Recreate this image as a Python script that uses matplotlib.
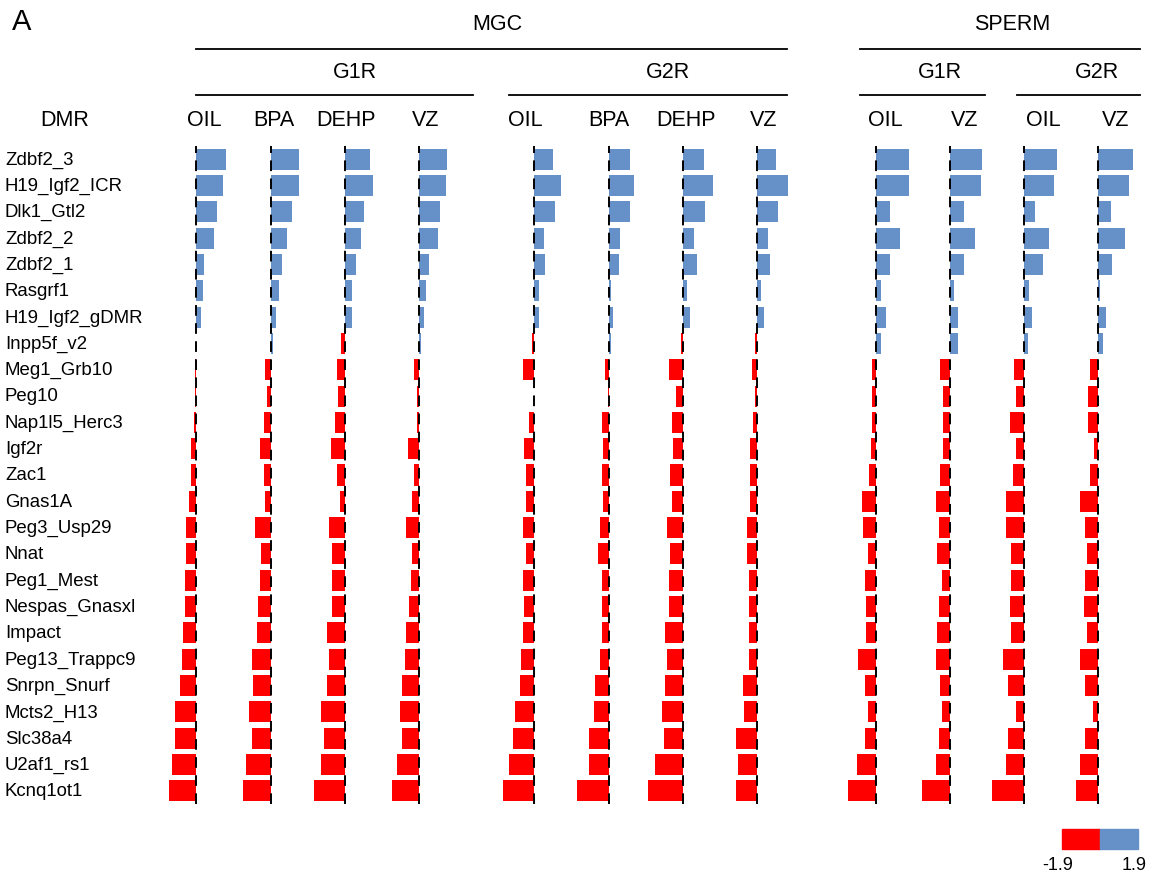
import matplotlib
matplotlib.use("Agg")
import matplotlib.pyplot as plt
from matplotlib.lines import Line2D
from matplotlib.patches import Rectangle

plt.rcParams["font.family"] = ["Liberation Sans", "DejaVu Sans"]

dmrs = ["Zdbf2_3", "H19_Igf2_ICR", "Dlk1_Gtl2", "Zdbf2_2", "Zdbf2_1", "Rasgrf1",
        "H19_Igf2_gDMR", "Inpp5f_v2", "Meg1_Grb10", "Peg10", "Nap1l5_Herc3", "Igf2r",
        "Zac1", "Gnas1A", "Peg3_Usp29", "Nnat", "Peg1_Mest", "Nespas_Gnasxl", "Impact",
        "Peg13_Trappc9", "Snrpn_Snurf", "Mcts2_H13", "Slc38a4", "U2af1_rs1", "Kcnq1ot1"]

mgc_g1r_oil = [1.50, 1.35, 1.05, 0.90, 0.40, 0.35, 0.25, 0.02, -0.03, -0.03, -0.12, -0.25, -0.25,
               -0.35, -0.50, -0.50, -0.55, -0.55, -0.65, -0.70, -0.80, -1.05, -1.05, -1.20, -1.35]
mgc_g1r_bpa = [1.40, 1.40, 1.05, 0.80, 0.55, 0.40, 0.25, 0.10, -0.30, -0.20, -0.35, -0.55, -0.35,
               -0.30, -0.80, -0.50, -0.55, -0.65, -0.70, -0.95, -0.90, -1.10, -0.95, -1.25, -1.40]
mgc_g1r_dehp = [1.25, 1.40, 0.95, 0.80, 0.55, 0.35, 0.35, -0.20, -0.40, -0.35, -0.50, -0.70, -0.40,
                -0.25, -0.80, -0.65, -0.65, -0.65, -0.90, -0.80, -0.90, -1.20, -1.05, -1.20, -1.55]
mgc_g1r_vz = [1.40, 1.35, 1.05, 0.95, 0.50, 0.35, 0.25, 0.10, -0.25, -0.10, -0.10, -0.55, -0.25,
              -0.35, -0.65, -0.35, -0.40, -0.50, -0.65, -0.70, -0.85, -0.95, -0.85, -1.10, -1.35]
mgc_g2r_oil = [0.95, 1.35, 1.05, 0.50, 0.55, 0.25, 0.25, -0.10, -0.55, 0.00, -0.25, -0.50, -0.40,
               -0.40, -0.55, -0.40, -0.55, -0.50, -0.55, -0.65, -0.70, -0.95, -1.05, -1.25, -1.55]
mgc_g2r_bpa = [1.05, 1.25, 1.05, 0.55, 0.50, 0.10, 0.20, 0.10, -0.20, -0.03, -0.35, -0.30, -0.35,
               -0.30, -0.45, -0.55, -0.35, -0.35, -0.35, -0.45, -0.70, -0.75, -1.00, -1.00, -1.60]
mgc_g2r_dehp = [1.05, 1.50, 1.10, 0.55, 0.70, 0.20, 0.35, -0.10, -0.70, -0.35, -0.55, -0.50, -0.65,
                -0.55, -0.80, -0.65, -0.70, -0.70, -0.90, -0.80, -0.90, -1.05, -0.95, -1.40, -1.75]
mgc_g2r_vz = [0.95, 1.55, 1.05, 0.55, 0.65, 0.20, 0.35, -0.10, -0.25, -0.10, -0.20, -0.35, -0.35,
              -0.35, -0.50, -0.50, -0.40, -0.40, -0.40, -0.40, -0.70, -0.65, -1.05, -0.95, -1.05]
sperm_g1r_oil = [1.65, 1.65, 0.70, 1.20, 0.70, 0.25, 0.50, 0.25, -0.20, -0.20, -0.20, -0.25, -0.35,
                 -0.70, -0.65, -0.40, -0.55, -0.50, -0.50, -0.90, -0.55, -0.40, -0.55, -0.95, -1.40]
sperm_g1r_vz = [1.60, 1.55, 0.70, 1.25, 0.70, 0.20, 0.40, 0.40, -0.50, -0.35, -0.35, -0.35, -0.50,
                -0.70, -0.55, -0.65, -0.40, -0.55, -0.65, -0.70, -0.50, -0.40, -0.55, -0.70, -1.40]
sperm_g2r_oil = [1.65, 1.50, 0.55, 1.25, 0.95, 0.25, 0.40, 0.20, -0.50, -0.40, -0.70, -0.40, -0.55,
                 -0.90, -0.90, -0.65, -0.65, -0.70, -0.65, -1.05, -0.80, -0.40, -0.80, -0.90, -1.60]
sperm_g2r_vz = [1.75, 1.55, 0.65, 1.35, 0.70, 0.10, 0.40, 0.25, -0.40, -0.50, -0.50, -0.20, -0.40,
                -0.90, -0.65, -0.55, -0.65, -0.70, -0.55, -0.90, -0.65, -0.25, -0.65, -0.90, -1.10]

columns = [mgc_g1r_oil, mgc_g1r_bpa, mgc_g1r_dehp, mgc_g1r_vz,
           mgc_g2r_oil, mgc_g2r_bpa, mgc_g2r_dehp, mgc_g2r_vz,
           sperm_g1r_oil, sperm_g1r_vz, sperm_g2r_oil, sperm_g2r_vz]
treatments = ["OIL", "BPA", "DEHP", "VZ", "OIL", "BPA", "DEHP", "VZ", "OIL", "VZ", "OIL", "VZ"]

W, H = 1153, 878
RED = "#ff0000"
BLUE = "#6590c8"

# pixel positions of each panel's zero line
base_x = [196, 271, 345, 419, 534, 609, 683, 757, 876, 950, 1024, 1098]
label_x = [204, 274, 346, 426, 525, 609, 686, 764, 885, 965, 1043, 1116]
top_px, bot_px = 147, 805
half = 37  # half panel width in px, 1 unit = 20 px


def fx(x):
    return x / W


def fy(y):
    return 1 - y / H


fig = plt.figure(figsize=(W / 100, H / 100), dpi=100)

for vals, bx in zip(columns, base_x):
    ax = fig.add_axes([fx(bx - half), fy(bot_px), 2 * half / W, (bot_px - top_px) / H])
    colors = [RED if v < 0 else BLUE for v in vals]
    ax.barh(range(len(dmrs)), vals, height=0.8, color=colors, zorder=2)
    ax.axvline(0, color="black", lw=1.4, ls=(0, (5.5, 3.8)), zorder=3)
    ax.set_xlim(-half / 20, half / 20)
    ax.set_ylim(len(dmrs) - 0.5, -0.5)
    ax.axis("off")

# row labels
row_step = (792 - 160) / (len(dmrs) - 1)
for i, name in enumerate(dmrs):
    fig.text(fx(5), fy(160 + i * row_step), name, fontsize=13.4, ha="left", va="center")

# headers
hdr = 15.5
fig.text(fx(12), fy(22), "A", fontsize=21, ha="left", va="center")
fig.text(fx(497), fy(25), "MGC", fontsize=hdr, ha="center", va="center")
fig.text(fx(1012), fy(25), "SPERM", fontsize=hdr, ha="center", va="center")
fig.text(fx(355), fy(73), "G1R", fontsize=hdr, ha="center", va="center")
fig.text(fx(668), fy(73), "G2R", fontsize=hdr, ha="center", va="center")
fig.text(fx(940), fy(73), "G1R", fontsize=hdr, ha="center", va="center")
fig.text(fx(1097), fy(73), "G2R", fontsize=hdr, ha="center", va="center")
fig.text(fx(65), fy(120), "DMR", fontsize=hdr, ha="center", va="center")
for lx, t in zip(label_x, treatments):
    fig.text(fx(lx), fy(120), t, fontsize=hdr, ha="center", va="center")

for x0, x1, y in [(196, 787, 50), (860, 1140, 50),
                  (196, 473, 96), (509, 787, 96), (860, 985, 96), (1017, 1140, 96)]:
    fig.add_artist(Line2D([fx(x0), fx(x1)], [fy(y), fy(y)], color="black", lw=1.3))

# colour scale
fig.add_artist(Rectangle((fx(1062), fy(850)), 38 / W, 20 / H, color=RED))
fig.add_artist(Rectangle((fx(1100), fy(850)), 38 / W, 20 / H, color=BLUE))
fig.text(fx(1058), fy(866), "-1.9", fontsize=13, ha="center", va="center")
fig.text(fx(1134), fy(866), "1.9", fontsize=13, ha="center", va="center")

fig.savefig("out.png", dpi=100)
